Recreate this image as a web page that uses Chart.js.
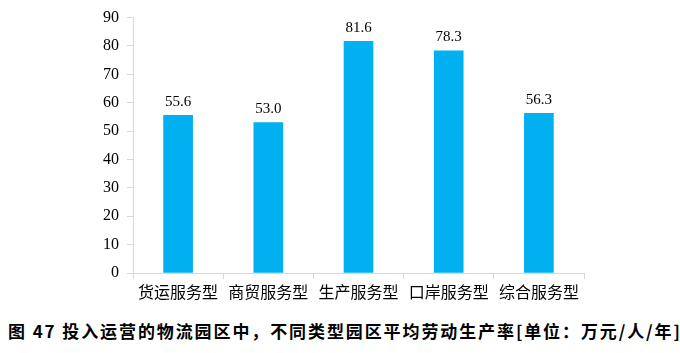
<!DOCTYPE html>
<html>
<head>
<meta charset="utf-8">
<script src="https://cdn.jsdelivr.net/npm/chart.js@4/dist/chart.umd.min.js"></script>
<style>
  body { margin: 0; background: #fff; }
  #wrap { position: relative; width: 680px; height: 310px; }
  #caption {
    position: absolute; left: 8px; top: 318px; white-space: nowrap; letter-spacing: 1.9px;
    font-family: "Noto Sans CJK SC", sans-serif; font-weight: bold; font-size: 17px; color: #000;
  }
</style>
</head>
<body>
<div id="wrap"><canvas id="c" width="680" height="310"></canvas></div>
<div id="caption">图 47 投入运营的物流园区中，不同类型园区平均劳动生产率[单位：万元/人/年]</div>
<script>
const categories = ['货运服务型', '商贸服务型', '生产服务型', '口岸服务型', '综合服务型'];
const productivity = [55.6, 53.0, 81.6, 78.3, 56.3];
const yTicks = [0, 10, 20, 30, 40, 50, 60, 70, 80, 90];

const valueLabels = {
    id: 'valueLabels',
    afterDatasetsDraw(chart) {
        const ctx = chart.ctx;
        const meta = chart.getDatasetMeta(0);
        ctx.save();
        ctx.font = '15px "Liberation Serif"';
        ctx.fillStyle = '#000';
        ctx.textAlign = 'center';
        ctx.textBaseline = 'bottom';
        meta.data.forEach((bar, i) => {
            ctx.fillText(productivity[i].toFixed(1), bar.x, bar.y - 6);
        });
        ctx.restore();
    }
};

new Chart(document.getElementById('c'), {
    type: 'bar',
    data: {
        labels: categories,
        datasets: [{
            data: productivity,
            backgroundColor: '#00B0F0',
            barThickness: 29
        }]
    },
    options: {
        responsive: false,
        animation: false,
        layout: { padding: { top: 10, right: 96, left: 0, bottom: 0 } },
        plugins: { legend: { display: false }, tooltip: { enabled: false } },
        scales: {
            x: {
                afterFit: s => { s.height = 37; },
                grid: { offset: true, drawOnChartArea: false, tickLength: 6, color: '#d9d9d9' },
                border: { color: '#d9d9d9' },
                ticks: { color: '#000', font: { family: '"Noto Sans CJK SC"', size: 16 }, padding: 3 }
            },
            y: {
                min: 0, max: 90,
                afterFit: s => { s.width = 133; },
                afterBuildTicks: s => { s.ticks = yTicks.map(v => ({ value: v })); },
                grid: { drawOnChartArea: false, tickLength: 6, color: '#d9d9d9' },
                border: { color: '#d9d9d9' },
                ticks: { color: '#000', font: { family: '"Liberation Serif"', size: 16 }, padding: 8 }
            }
        }
    },
    plugins: [valueLabels]
});
</script>
</body>
</html>
